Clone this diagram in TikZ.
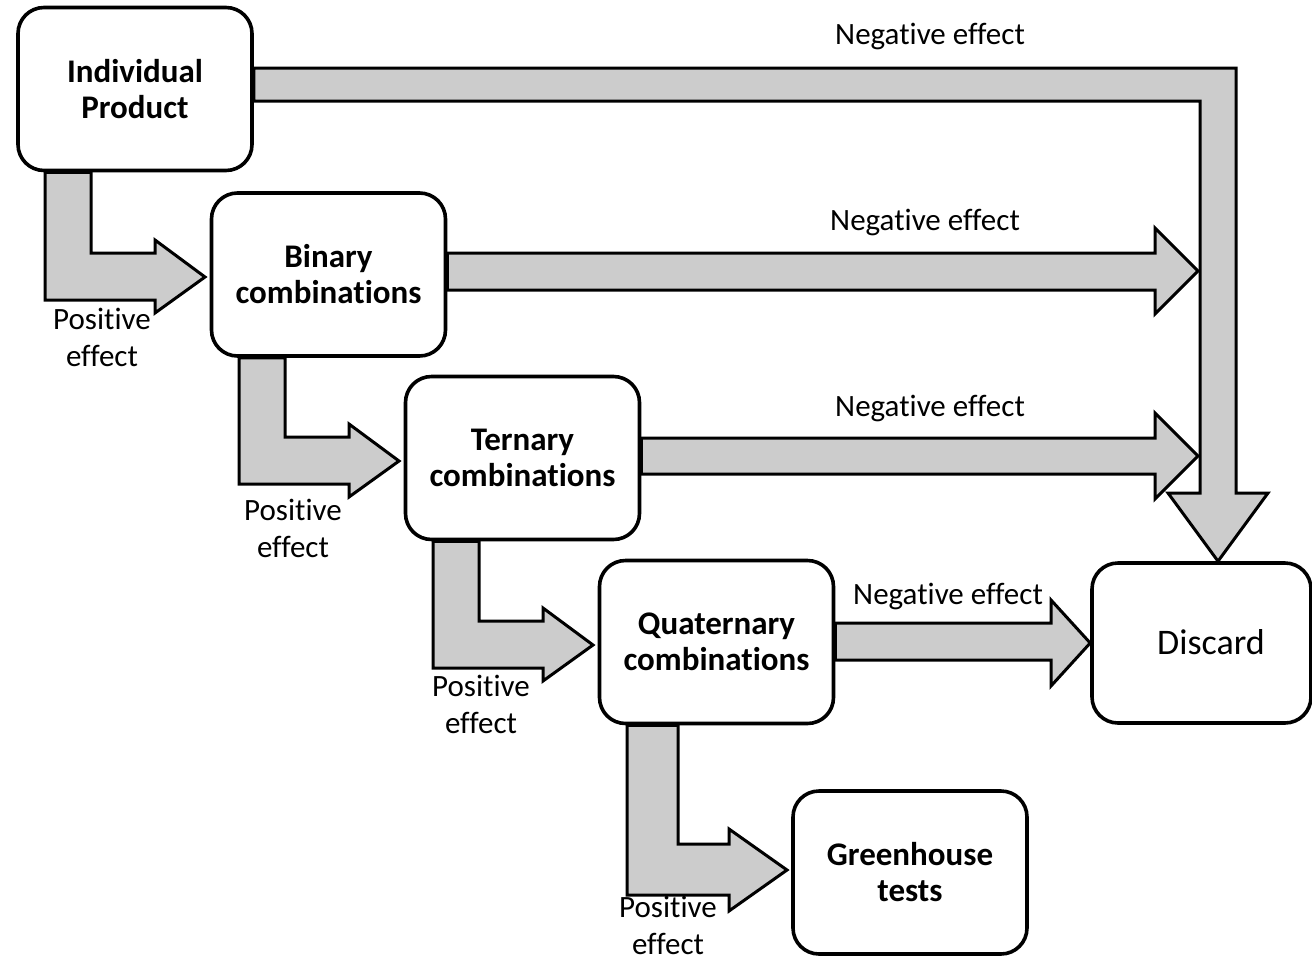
\documentclass[tikz,border=0pt]{standalone}
\usepackage{fontspec}
\setmainfont{Carlito}[Ligatures={NoCommon}]
\usetikzlibrary{calc,backgrounds}
\definecolor{arrowgray}{RGB}{204,204,204}
\begin{document}
\begin{tikzpicture}[x=1pt,y=-1pt,
  box/.style={draw=black, line width=3.6pt, rounded corners=26pt, fill=white,
    minimum width=234pt, minimum height=163pt, inner sep=0pt, align=center,
    font=\fontsize{33}{36}\bfseries\selectfont},
  blockarrow/.style={draw=black, fill=arrowgray, line width=3pt, line join=miter},
  lbl/.style={font=\fontsize{31}{37}\selectfont, inner sep=0pt, align=center}]
\useasboundingbox (0,0) rectangle (1312,962);

% boxes
\node[box] (ind) at (135,89) {Individual\\Product};
\node[box] (bin) at (328.5,274.5) {Binary\\combinations};
\node[box] (ter) at (522.5,458) {Ternary\\combinations};
\node[box] (qua) at (716.5,642) {Quaternary\\combinations};
\node[box] (gre) at (910,872.5) {Greenhouse\\tests};
\node[box, minimum width=219pt, minimum height=160pt] (dis) at (1201.5,643) {};
\node[font=\fontsize{36}{40}\selectfont, inner sep=0pt] (distext) at (1211,642) {Discard};

% block arrows
\begin{scope}[on background layer]
  % negative effects
  \draw[blockarrow] (ind.east |- 0,68) -- (1236,68) -- (1236,493) -- (1268,493)
    -- (1218,0 |- dis.north) -- (1168,493) -- (1200,493) -- (1200,101)
    -- (ind.east |- 0,101) -- cycle;
  \draw[blockarrow] (bin.east |- 0,253) -- (1155,253) -- (1155,228) -- (1198,271)
    -- (1155,314) -- (1155,290) -- (bin.east |- 0,290) -- cycle;
  \draw[blockarrow] (ter.east |- 0,438) -- (1155,438) -- (1155,413) -- (1198,456)
    -- (1155,499) -- (1155,474) -- (ter.east |- 0,474) -- cycle;
  \draw[blockarrow] (qua.east |- 0,623) -- (1051,623) -- (1051,600) -- (dis.west)
    -- (1051,686) -- (1051,660) -- (qua.east |- 0,660) -- cycle;
  % positive effects
  \draw[blockarrow] (45,0 |- ind.south) -- (91,0 |- ind.south) -- (91,253) -- (155,253)
    -- (155,240) -- (205,277) -- (155,313) -- (155,300) -- (45,300) -- cycle;
  \draw[blockarrow] (239,0 |- bin.south) -- (285,0 |- bin.south) -- (285,437) -- (349,437)
    -- (349,424) -- (399,461) -- (349,497) -- (349,484) -- (239,484) -- cycle;
  \draw[blockarrow] (433,0 |- ter.south) -- (479,0 |- ter.south) -- (479,621) -- (543,621)
    -- (543,608) -- (593,645) -- (543,681) -- (543,668) -- (433,668) -- cycle;
  \draw[blockarrow] (627,0 |- qua.south) -- (678,0 |- qua.south) -- (678,844) -- (729,844)
    -- (729,829) -- (787,870) -- (729,911) -- (729,895) -- (627,895) -- cycle;
\end{scope}

% labels
\node[lbl] (n1) at (930,36) {Negative effect};
\node[lbl] (n2) at (925,222) {Negative effect};
\node[lbl] (n3) at (930,408) {Negative effect};
\node[lbl] (n4) at (948,596) {Negative effect};
\node[lbl] (p1) at (102,337) {Positive\\effect};
\node[lbl] (p2) at (293,528) {Positive\\effect};
\node[lbl] (p3) at (481,704) {Positive\\effect};
\node[lbl] (p4) at (668,925) {Positive\\effect};
\end{tikzpicture}
\end{document}
